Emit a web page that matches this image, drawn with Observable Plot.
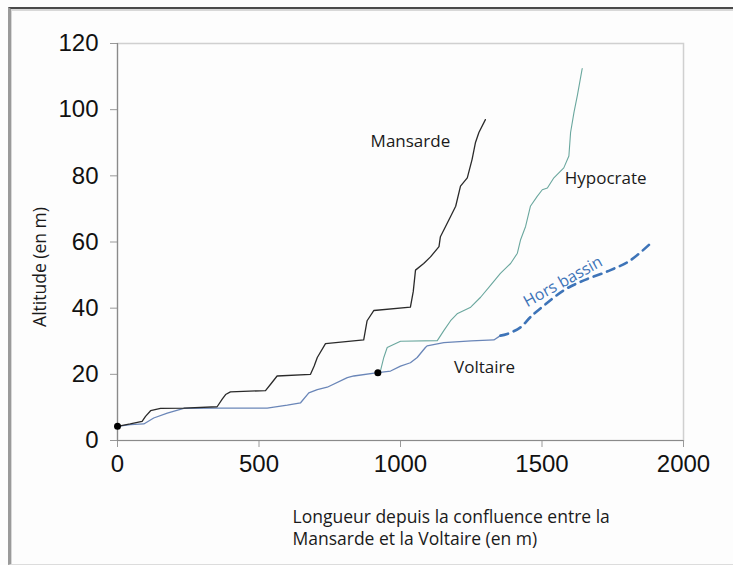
<!DOCTYPE html>
<html>
<head>
<meta charset="utf-8">
<script src="https://cdn.jsdelivr.net/npm/d3@7"></script>
<script src="https://cdn.jsdelivr.net/npm/@observablehq/plot@0.6"></script>
<style>
  html, body { margin: 0; padding: 0; background: #ffffff; }
  #wrap { position: relative; width: 733px; height: 565px; overflow: hidden; background: #fdfdfd; }
  #frame { position: absolute; left: 8px; top: 7px; width: 740px; height: 555px;
           border-top: 2px solid #4a4a4a; border-left: 3px solid #9a9a9a; border-bottom: 1px solid #dcdcdc;
           box-shadow: inset 1px 2px 0 #d8d8d8; pointer-events: none; }
  #chart { position: absolute; left: 0; top: 0; }
</style>
</head>
<body>
<div id="wrap"><div id="chart"></div><div id="frame"></div></div>
<script>
// ---- data ----
const mansardeX = [0, 45, 87, 99, 117, 152, 234, 352, 370, 382, 399, 523, 541, 564, 682, 695, 706, 735, 870, 882, 906, 1035, 1045, 1053, 1082, 1106, 1136, 1141, 1177, 1195, 1212, 1236, 1253, 1265, 1277, 1300];
const mansardeY = [4.3, 5.0, 5.8, 7.3, 9.0, 9.7, 9.8, 10.2, 12.5, 13.9, 14.7, 15.1, 17.0, 19.5, 20.0, 22.5, 25.1, 29.3, 30.4, 36.2, 39.3, 40.3, 45.0, 51.5, 53.5, 55.5, 58.6, 61.6, 67.7, 70.8, 76.9, 79.4, 85.0, 90.1, 93.1, 97.0];

const voltaireX = [0, 46, 93, 128, 176, 234, 352, 529, 600, 647, 676, 706, 741, 812, 835, 920, 965, 1000, 1035, 1059, 1088, 1094, 1153, 1250, 1330, 1353];
const voltaireY = [4.3, 4.8, 5.0, 6.8, 8.3, 9.7, 9.8, 9.8, 10.7, 11.4, 14.4, 15.4, 16.1, 19.0, 19.5, 20.5, 21.0, 22.5, 23.5, 25.1, 28.1, 28.6, 29.6, 30.1, 30.4, 31.7];

const horsBassinX = [1353, 1377, 1424, 1459, 1507, 1577, 1648, 1742, 1813, 1890];
const horsBassinY = [31.7, 32.2, 34.2, 37.3, 40.8, 45.4, 48.4, 51.5, 54.5, 60.1];

const hypocrateX = [920, 929, 941, 953, 1000, 1130, 1153, 1177, 1200, 1248, 1283, 1318, 1353, 1389, 1413, 1424, 1442, 1459, 1483, 1501, 1519, 1542, 1577, 1595, 1601, 1613, 1625, 1642];
const hypocrateY = [20.5, 21.0, 25.1, 28.1, 30.0, 30.2, 33.2, 36.2, 38.3, 40.3, 43.3, 46.9, 50.5, 53.5, 56.6, 60.6, 64.7, 70.8, 73.8, 75.8, 76.3, 79.4, 82.4, 86.0, 93.1, 99.2, 104.3, 112.4];

const dotX = [0, 920];
const dotY = [4.3, 20.5];

const xTicks = [0, 500, 1000, 1500, 2000];
const yTicks = [0, 20, 40, 60, 80, 100, 120];

const labelNames = ["Mansarde", "Hypocrate", "Voltaire"];
const labelX = [1035, 1725, 1297];
const labelY = [90.5, 79.2, 22.2];

const xTitle = "Longueur depuis la confluence entre la\nMansarde et la Voltaire (en m)";
const yTitle = "Altitude (en m)";
const horsLabel = "Hors bassin";
const horsLabelX = 1574;
const horsLabelY = 48.0;

// ---- build ----
const zip = (xs, ys) => xs.map((x, i) => ({x, y: ys[i]}));
const mansarde = zip(mansardeX, mansardeY);
const voltaire = zip(voltaireX, voltaireY);
const hors = zip(horsBassinX, horsBassinY);
const hypocrate = zip(hypocrateX, hypocrateY);
const dots = zip(dotX, dotY);
const labels = labelNames.map((t, i) => ({t, x: labelX[i], y: labelY[i]}));

const labelFont = "'Open Sans', 'DejaVu Sans', sans-serif";

const chart = Plot.plot({
  width: 733,
  height: 565,
  marginLeft: 117,
  marginRight: 50,
  marginTop: 43,
  marginBottom: 125,
  style: {background: "transparent", fontFamily: "'Liberation Sans', Arial, sans-serif"},
  x: {domain: [0, 2000]},
  y: {domain: [0, 120]},
  marks: [
    Plot.frame({stroke: "#d0d0d0", strokeWidth: 1.5}),
    Plot.axisX({ticks: xTicks, tickFormat: d => String(d), tickSize: 7, tickPadding: 7, fontSize: 24, stroke: "#999", fill: "#111", label: null}),
    Plot.axisY({ticks: yTicks, tickFormat: d => String(d), tickSize: 7, tickPadding: 12, fontSize: 24, stroke: "#999", fill: "#111", label: null}),
    Plot.ruleY([0], {stroke: "#8a8a8a", strokeWidth: 1.2}),
    Plot.ruleX([0], {stroke: "#8a8a8a", strokeWidth: 1.2}),
    Plot.line(voltaire, {x: "x", y: "y", stroke: "#6a86b8", strokeWidth: 1.3}),
    Plot.line(hypocrate, {x: "x", y: "y", stroke: "#6aa79e", strokeWidth: 1.1}),
    Plot.line(mansarde, {x: "x", y: "y", stroke: "#2a2a2a", strokeWidth: 1.3}),
    Plot.line(hors, {x: "x", y: "y", stroke: "#3e74b8", strokeWidth: 2.6, strokeDasharray: "8,6", curve: "catmull-rom"}),
    Plot.dot(dots, {x: "x", y: "y", r: 3.5, fill: "#000", stroke: "none"}),
    Plot.text(labels, {x: "x", y: "y", text: "t", fontSize: 17, fill: "#1a1a1a", fontFamily: labelFont}),
    Plot.text([horsLabel], {x: () => horsLabelX, y: () => horsLabelY, text: d => d, rotate: -29, fontSize: 16, fill: "#3e74b8", fontFamily: labelFont}),
    Plot.text([yTitle], {frameAnchor: "left", text: d => d, textAnchor: "middle", rotate: -90, dx: -77, dy: 25, fontSize: 17.5, fill: "#1a1a1a", fontFamily: labelFont}),
    Plot.text([xTitle], {frameAnchor: "bottom", text: d => d, textAnchor: "start", lineAnchor: "top", lineHeight: 1.25, dx: -108, dy: 67, fontSize: 17.5, fill: "#1a1a1a", fontFamily: labelFont})
  ]
});
document.getElementById("chart").appendChild(chart);
</script>
</body>
</html>
